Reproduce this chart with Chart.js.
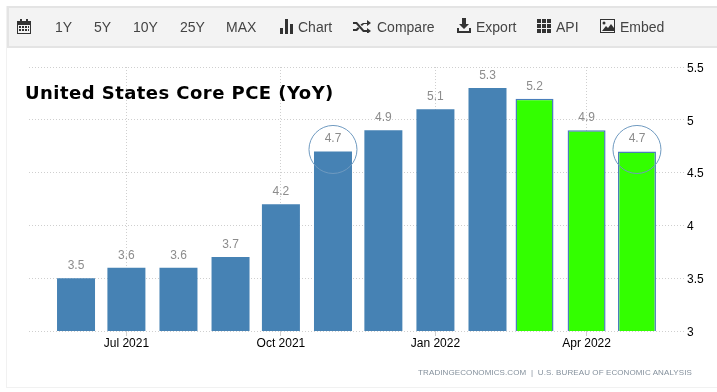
<!DOCTYPE html>
<html>
<head>
<meta charset="utf-8">
<script src="https://cdn.jsdelivr.net/npm/chart.js@4.4.6/dist/chart.umd.js"></script>
<style>
  html, body { margin: 0; padding: 0; background: #fff; }
  #wrap { position: relative; width: 717px; height: 392px; overflow: hidden; font-family: "Liberation Sans", Arial, sans-serif; }
  #frame { position: absolute; left: 6px; top: 6px; width: 720px; height: 381px; border: 1px solid #f1f1f1; border-top: 0; }
  #bar { position: absolute; left: 7px; top: 6px; width: 720px; height: 38px; background: #f3f3f3; border: solid #e4e4e4; border-width: 2px 0 2px 2px; }
  .it { position: absolute; top: 19px; font-size: 14px; line-height: 16px; color: #444; white-space: nowrap; }
  svg.ic { position: absolute; fill: #333; }
  canvas { position: absolute; left: 0; top: 0; }
  #title { position: absolute; left: 25px; top: 82px; font: bold 18px "DejaVu Sans", sans-serif; letter-spacing: 0.45px; color: #000; white-space: nowrap; }
  #src { position: absolute; right: 25px; top: 368px; font-size: 8px; letter-spacing: 0.1px; color: #84909c; white-space: nowrap; }
</style>
</head>
<body>
<div id="wrap">
  <div id="frame"></div>
  <div id="bar"></div>
  <canvas id="c" width="717" height="392"></canvas>
  <div id="title">United States Core PCE (YoY)</div>
  <div id="src">TRADINGECONOMICS.COM &nbsp;|&nbsp; U.S. BUREAU OF ECONOMIC ANALYSIS</div>
  <span class="it" style="left:55px">1Y</span>
  <span class="it" style="left:94px">5Y</span>
  <span class="it" style="left:133px">10Y</span>
  <span class="it" style="left:180px">25Y</span>
  <span class="it" style="left:226px">MAX</span>
  <span class="it" style="left:298px">Chart</span>
  <span class="it" style="left:377px">Compare</span>
  <span class="it" style="left:476px">Export</span>
  <span class="it" style="left:556px">API</span>
  <span class="it" style="left:620px">Embed</span>
  <svg class="ic" style="left:17px;top:19px" width="14" height="15" viewBox="0 0 14 15"><path d="M0 2h3V0h2v2h4V0h2v2h3v13H0zM1 6v8h12V6z"/><path d="M2 7h2v2H2zM5 7h2v2H5zM8 7h2v2H8zM11 7h1v2h-1zM2 10h2v2H2zM5 10h2v2H5zM8 10h2v2H8zM11 10h1v2h-1z"/></svg>
  <svg class="ic" style="left:280px;top:19px" width="14" height="15" viewBox="0 0 14 15"><path d="M0 9h3v6H0zM5 0h3v15H5zM10 5h3v10h-3z"/></svg>
  <svg class="ic" style="left:353px;top:20px" width="18" height="13" viewBox="0 0 18 13"><path d="M0 2h4l7 8h3V8l4 3-4 3v-2h-4L3 4H0zM0 9h3l2-2 1.500 1.500L4 11H0zM10 3h4V0l4 3-4 3V4h-3L9 6 7.500 4.500z"/></svg>
  <svg class="ic" style="left:457px;top:18px" width="14" height="15" viewBox="0 0 14 15"><path d="M5 0h4v6h3L7 11 2 6h3zM0 10h2v3h10v-3h2v5H0z"/></svg>
  <svg class="ic" style="left:537px;top:19px" width="14" height="14" viewBox="0 0 14 14"><path d="M0 0h4v4H0zM5 0h4v4H5zM10 0h4v4h-4zM0 5h4v4H0zM5 5h4v4H5zM10 5h4v4h-4zM0 10h4v4H0zM5 10h4v4H5zM10 10h4v4h-4z"/></svg>
  <svg class="ic" style="left:600px;top:19px" width="15" height="14" viewBox="0 0 15 14"><path d="M0 0h15v14H0zM1 1v12h13V1z"/><path d="M2 12l4-5 2 2 3-4 3 4v3z"/><circle cx="4" cy="4" r="1.500"/></svg>
</div>
<script>
const months = ['2021-06-01', '2021-07-01', '2021-08-01', '2021-09-01', '2021-10-01', '2021-11-01',
  '2021-12-01', '2022-01-01', '2022-02-01', '2022-03-01', '2022-04-01', '2022-05-01'];
const values = [3.5, 3.6, 3.6, 3.7, 4.2, 4.7, 4.9, 5.1, 5.3, 5.2, 4.9, 4.7];
const highlighted = [false, false, false, false, false, false, false, false, false, true, true, true];
const circled = [5, 11];
const xTickDates = ['2021-07-01', '2021-10-01', '2022-01-01', '2022-04-01'];
const xTickLabels = ['Jul 2021', 'Oct 2021', 'Jan 2022', 'Apr 2022'];
const yTicks = [3, 3.5, 4, 4.5, 5, 5.5];

const DAY = 86400000;
const ms = (s) => Date.parse(s + 'T00:00:00Z');

// value labels and the two rings, placed from the scales
const overlay = {
  id: 'overlay',
  afterDatasetsDraw(chart) {
    const { ctx, scales: { x, y } } = chart;
    ctx.save();
    ctx.font = '12px "Liberation Sans", Arial, sans-serif';
    ctx.fillStyle = '#8c8c8c';
    ctx.textAlign = 'center';
    ctx.textBaseline = 'alphabetic';
    values.forEach((v, i) => {
      ctx.fillText(v.toFixed(1), x.getPixelForValue(ms(months[i])), y.getPixelForValue(v) - 9);
    });
    ctx.strokeStyle = '#6f9ac0';
    ctx.lineWidth = 1;
    circled.forEach((i) => {
      ctx.beginPath();
      ctx.arc(x.getPixelForValue(ms(months[i])), y.getPixelForValue(values[i]) - 2, 24, 0, Math.PI * 2);
      ctx.stroke();
    });
    ctx.restore();
  },
};

new Chart(document.getElementById('c'), {
  type: 'bar',
  data: {
    datasets: [{
      data: months.map((m, i) => ({ x: ms(m), y: values[i] })),
      backgroundColor: highlighted.map((h) => (h ? '#33ff00' : '#4682b4')),
      borderColor: highlighted.map((h) => (h ? '#4a7ebb' : '#4682b4')),
      borderWidth: highlighted.map((h) => (h ? 1.5 : 0)),
      borderSkipped: false,
      inflateAmount: 0,
      barThickness: 38,
    }],
  },
  plugins: [overlay],
  options: {
    responsive: false,
    animation: false,
    layout: { padding: { left: 29, top: 67, right: 0, bottom: 0 } },
    plugins: { legend: { display: false }, tooltip: { enabled: false } },
    scales: {
      x: {
        type: 'linear',
        position: 'bottom',
        offset: false,
        min: ms(months[0]) - 28 * DAY,
        max: ms(months[11]) + 28.6 * DAY,
        afterBuildTicks: (s) => { s.ticks = xTickDates.map((d) => ({ value: ms(d) })); },
        afterFit: (s) => { s.height = 61; },
        grid: { color: '#cfcfcf', tickLength: 5, drawOnChartArea: true, offset: false },
        border: { display: false, dash: [1, 2] },
        ticks: {
          autoSkip: false,
          maxRotation: 0,
          padding: 0,
          color: '#000',
          font: { family: '"Liberation Sans", Arial, sans-serif', size: 12 },
          callback: (v) => xTickLabels[xTickDates.findIndex((d) => ms(d) === v)],
        },
      },
      y: {
        position: 'right',
        min: 3,
        max: 5.5,
        afterBuildTicks: (s) => { s.ticks = yTicks.map((v) => ({ value: v })); },
        afterFit: (s) => { s.width = 32; },
        grid: { color: '#cfcfcf', drawTicks: false },
        border: { display: false, dash: [1, 2] },
        ticks: {
          padding: 2,
          labelOffset: 1.5,
          color: '#000',
          font: { family: '"Liberation Sans", Arial, sans-serif', size: 12 },
          callback: (v) => String(v),
        },
      },
    },
  },
});
</script>
</body>
</html>
